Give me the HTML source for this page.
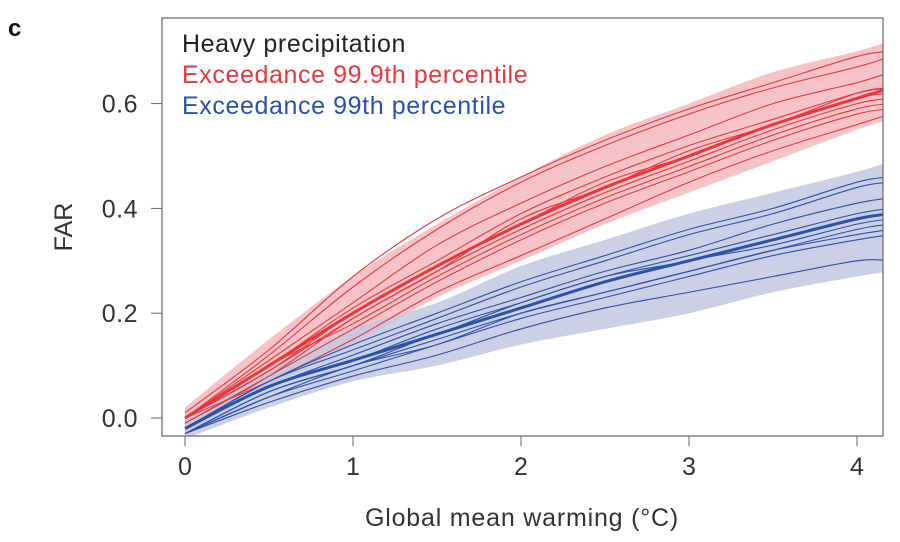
<!DOCTYPE html>
<html><head><meta charset="utf-8"><style>
body{margin:0;background:#fff}
svg{display:block;font-family:"Liberation Sans",sans-serif}
</style></head><body>
<svg id="chart" width="900" height="542" viewBox="0 0 900 542">
<text x="8" y="36" font-size="24" font-weight="bold" fill="#111">c</text>
<defs><clipPath id="clip"><rect x="162" y="18" width="721" height="418"/></clipPath></defs>
<g id="bands" clip-path="url(#clip)"></g>
<g id="lines" clip-path="url(#clip)"></g>
<rect x="162" y="18" width="721" height="418" fill="none" stroke="#666" stroke-width="1.2"/>
<g id="axes"></g>
<text x="182" y="52" font-size="25" letter-spacing="0.6" fill="#222">Heavy precipitation</text>
<text x="182" y="83" font-size="25" letter-spacing="0.6" fill="#e8383d">Exceedance 99.9th percentile</text>
<text x="182" y="114" font-size="25" letter-spacing="0.6" fill="#2a52a8">Exceedance 99th percentile</text>
<text x="522" y="526" font-size="25" letter-spacing="0.8" fill="#333" text-anchor="middle">Global mean warming (°C)</text>
<text transform="translate(72,227) rotate(-90)" font-size="25" fill="#333" text-anchor="middle">FAR</text>
</svg>
<script>
const xGrid=[0,0.5,1,1.5,2,2.5,3,3.5,4,4.2];
const xTicks=[0,1,2,3,4];
const yTicks=[0.0,0.2,0.4,0.6];
const yTickLabels=["0.0","0.2","0.4","0.6"];
const redUpper=[0.02,0.15,0.27,0.37,0.46,0.54,0.6,0.66,0.7,0.72];
const redLower=[-0.03,0.06,0.14,0.23,0.3,0.37,0.43,0.49,0.55,0.57];
const redMean=[0,0.1,0.2,0.29,0.37,0.44,0.5,0.56,0.61,0.63];
const blueUpper=[0.0,0.09,0.17,0.22,0.29,0.34,0.39,0.43,0.47,0.49];
const blueLower=[-0.04,0.02,0.07,0.1,0.14,0.17,0.2,0.24,0.27,0.28];
const blueMean=[-0.02,0.06,0.11,0.16,0.21,0.26,0.3,0.34,0.38,0.39];
const memberX=[0,0.5,1,1.5,2,2.5,3,3.5,4,4.2];
const red1=[0,0.12,0.25,0.36,0.45,0.52,0.58,0.63,0.67,0.69];
const red2=[0,0.09,0.19,0.28,0.36,0.43,0.49,0.55,0.6,0.61];
const red3=[0,0.1,0.21,0.3,0.39,0.46,0.52,0.57,0.62,0.63];
const red4=[-0.01,0.08,0.17,0.26,0.34,0.41,0.47,0.53,0.58,0.59];
const red5=[0,0.11,0.22,0.33,0.41,0.48,0.54,0.6,0.64,0.66];
const red6=[0,0.07,0.15,0.24,0.31,0.38,0.45,0.51,0.56,0.58];
const red7=[0.01,0.13,0.27,0.38,0.46,0.53,0.59,0.64,0.69,0.7];
const red8=[0,0.09,0.2,0.29,0.37,0.45,0.5,0.56,0.61,0.62];
const red9=[0,0.1,0.18,0.27,0.35,0.42,0.48,0.54,0.59,0.6];
const red10=[-0.01,0.08,0.19,0.28,0.38,0.44,0.51,0.56,0.62,0.63];
const blue1=[-0.02,0.07,0.13,0.19,0.25,0.3,0.35,0.39,0.44,0.45];
const blue2=[-0.03,0.05,0.1,0.15,0.2,0.24,0.28,0.32,0.36,0.37];
const blue3=[-0.02,0.06,0.11,0.16,0.22,0.27,0.31,0.35,0.39,0.4];
const blue4=[-0.03,0.03,0.08,0.12,0.17,0.21,0.24,0.27,0.3,0.3];
const blue5=[-0.02,0.06,0.12,0.18,0.23,0.28,0.32,0.37,0.41,0.42];
const blue6=[-0.03,0.04,0.09,0.14,0.19,0.23,0.27,0.31,0.34,0.35];
const blue7=[-0.02,0.07,0.14,0.2,0.26,0.31,0.36,0.4,0.45,0.46];
const blue8=[-0.03,0.05,0.1,0.16,0.21,0.26,0.3,0.33,0.37,0.38];
const blue9=[-0.03,0.04,0.1,0.14,0.2,0.24,0.28,0.32,0.35,0.36];
const blue10=[-0.02,0.06,0.11,0.17,0.22,0.27,0.3,0.34,0.38,0.39];
const redMembers=[red1,red2,red3,red4,red5,red6,red7,red8,red9,red10];
const blueMembers=[blue1,blue2,blue3,blue4,blue5,blue6,blue7,blue8,blue9,blue10];

const NS="http://www.w3.org/2000/svg";
function sx(v){return 185+v*168;}
function sy(v){return 418-v*524;}
function pathD(xs,ys){
  const p=xs.map((x,i)=>[sx(x),sy(ys[i])]);
  let d="M"+p[0][0]+","+p[0][1];
  for(let i=0;i<p.length-1;i++){
    const p0=p[Math.max(0,i-1)],p1=p[i],p2=p[i+1],p3=p[Math.min(p.length-1,i+2)];
    d+=" C"+(p1[0]+(p2[0]-p0[0])/6)+","+(p1[1]+(p2[1]-p0[1])/6)+" "+(p2[0]-(p3[0]-p1[0])/6)+","+(p2[1]-(p3[1]-p1[1])/6)+" "+p2[0]+","+p2[1];
  }
  return d;
}
function bandD(xs,up,lo){
  const rx=xs.slice().reverse(),rl=lo.slice().reverse();
  return pathD(xs,up)+" L"+pathD(rx,rl).slice(1)+" Z";
}
const bands=document.getElementById('bands');
const lines=document.getElementById('lines');
const axes=document.getElementById('axes');

let b=document.createElementNS(NS,'path');
b.setAttribute('d',bandD(xGrid,redUpper,redLower));b.setAttribute('fill','#f4b9be');b.setAttribute('opacity','0.85');


bands.appendChild(b);
b=document.createElementNS(NS,'path');
b.setAttribute('d',bandD(xGrid,blueUpper,blueLower));b.setAttribute('fill','#c3c8e3');b.setAttribute('opacity','0.85');


bands.appendChild(b);

redMembers.forEach((m,i)=>{
  const p=document.createElementNS(NS,'path');
  p.setAttribute('d',pathD(memberX,m));p.setAttribute('fill','none');p.setAttribute('stroke','#e8383d');p.setAttribute('stroke-width','1.1');
  
  
  lines.appendChild(p);
});
blueMembers.forEach((m,i)=>{
  const p=document.createElementNS(NS,'path');
  p.setAttribute('d',pathD(memberX,m));p.setAttribute('fill','none');p.setAttribute('stroke','#2a52a8');p.setAttribute('stroke-width','1.1');
  
  
  lines.appendChild(p);
});
let mp=document.createElementNS(NS,'path');
mp.setAttribute('d',pathD(xGrid,redMean));mp.setAttribute('fill','none');mp.setAttribute('stroke','#e8383d');mp.setAttribute('stroke-width','3');


lines.appendChild(mp);
mp=document.createElementNS(NS,'path');
mp.setAttribute('d',pathD(xGrid,blueMean));mp.setAttribute('fill','none');mp.setAttribute('stroke','#2a52a8');mp.setAttribute('stroke-width','3');


lines.appendChild(mp);

xTicks.forEach(v=>{
  const l=document.createElementNS(NS,'line');
  l.setAttribute('x1',sx(v));l.setAttribute('x2',sx(v));l.setAttribute('y1',436);l.setAttribute('y2',446);l.setAttribute('stroke','#666');
  
  
  axes.appendChild(l);
  const t=document.createElementNS(NS,'text');
  t.setAttribute('x',sx(v));t.setAttribute('y',475);t.setAttribute('text-anchor','middle');t.setAttribute('font-size','25');t.setAttribute('fill','#333');
  t.textContent=String(v);
  
  
  axes.appendChild(t);
});
yTicks.forEach((v,i)=>{
  const l=document.createElementNS(NS,'line');
  l.setAttribute('x1',151);l.setAttribute('x2',162);l.setAttribute('y1',sy(v));l.setAttribute('y2',sy(v));l.setAttribute('stroke','#666');
  
  
  axes.appendChild(l);
  const t=document.createElementNS(NS,'text');
  t.setAttribute('x',138);t.setAttribute('y',sy(v)+9);t.setAttribute('text-anchor','end');t.setAttribute('font-size','25');t.setAttribute('letter-spacing','0.5');t.setAttribute('fill','#333');
  t.textContent=yTickLabels[i];
  
  
  axes.appendChild(t);
});
</script>
</body></html>
